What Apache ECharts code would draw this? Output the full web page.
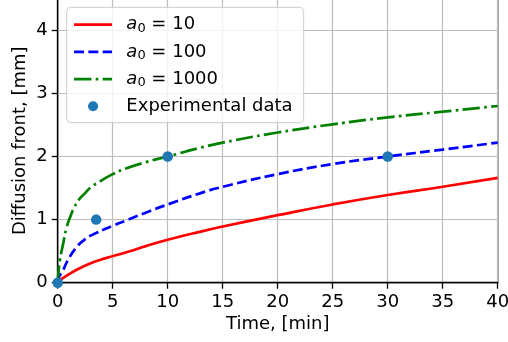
<!DOCTYPE html>
<html><head><meta charset="utf-8">
<script src="https://cdn.jsdelivr.net/npm/echarts@6/dist/echarts.min.js"></script>
<style>html,body{margin:0;padding:0;background:#fff}#c{width:508px;height:342px}</style>
</head><body><div id="c"></div>
<script>
// Time, [min] and Diffusion front, [mm]
const tRed = [0, 0.3, 0.9, 1.9, 3, 4.3, 6.4, 8, 10, 13, 15, 20, 25, 30, 35, 40];
const vRed = [0, 0.05, 0.12, 0.22, 0.31, 0.385, 0.49, 0.58, 0.68, 0.81, 0.89, 1.07, 1.24, 1.39, 1.52, 1.66];
const tBlue = [0, 0.15, 0.5, 0.9, 1.7, 2.5, 3.4, 5, 6.2, 8, 10, 13, 15, 20, 25, 30, 35, 40];
const vBlue = [0, 0.10, 0.20, 0.35, 0.56, 0.69, 0.78, 0.90, 0.985, 1.11, 1.24, 1.42, 1.52, 1.72, 1.88, 2.00, 2.11, 2.22];
const tGreen = [0, 0.1, 0.2, 0.5, 0.8, 1.2, 1.5, 1.9, 2.5, 3, 3.8, 5, 6.2, 8, 10, 13, 15, 20, 25, 30, 35, 40];
const vGreen = [0, 0.22, 0.36, 0.62, 0.87, 1.07, 1.19, 1.31, 1.42, 1.51, 1.60, 1.72, 1.81, 1.91, 2.00, 2.14, 2.22, 2.38, 2.51, 2.62, 2.71, 2.80];
const tExp = [0, 3.5, 10, 30];
const vExp = [0, 1, 2, 2];
const seriesNames = ['a0=10', 'a0=100', 'a0=1000', 'Experimental data'];
const legendLabels = ['10', '100', '1000'];

const zip = (a, b) => a.map((x, i) => [x, b[i]]);
const FONT = 'DejaVu Sans';
const FS = 18;
const chart = echarts.init(document.getElementById('c'), null, {renderer: 'canvas'});

const lineSeries = (name, t, v, color, type) => ({
  name, type: 'line', data: zip(t, v), symbol: 'none', smooth: 0.5,
  lineStyle: {color, width: 2.7, type}, itemStyle: {color}, z: 3
});

chart.setOption({
  animation: false,
  grid: {left: 57.7, right: 10.3, top: -1.25, bottom: 59.3, outerBoundsMode: 'none', containLabel: false,
         show: true, borderColor: '#000', borderWidth: 1.3, backgroundColor: 'transparent'},
  xAxis: {
    type: 'value', min: 0, max: 40, interval: 5,
    name: 'Time, [min]', nameLocation: 'middle', nameGap: 33, nameMoveOverlap: false,
    nameTextStyle: {fontFamily: FONT, fontSize: FS, color: '#000'},
    axisLine: {show: true, onZero: false, lineStyle: {color: '#000', width: 1.3}},
    axisTick: {show: true, length: 6, lineStyle: {color: '#000', width: 1.3}},
    axisLabel: {fontFamily: FONT, fontSize: FS, color: '#000', margin: 11},
    splitLine: {show: true, lineStyle: {color: '#bdbdbd', width: 1.2}}
  },
  yAxis: {
    type: 'value', min: 0, max: 4.5, interval: 1,
    name: 'Diffusion front, [mm]', nameLocation: 'middle', nameGap: 28.5, nameMoveOverlap: false,
    nameTextStyle: {fontFamily: FONT, fontSize: FS, color: '#000'},
    axisLine: {show: true, onZero: false, lineStyle: {color: '#000', width: 1.3}},
    axisTick: {show: true, length: 6, lineStyle: {color: '#000', width: 1.3}},
    axisLabel: {fontFamily: FONT, fontSize: FS, color: '#000', margin: 10, showMaxLabel: false},
    splitLine: {show: true, lineStyle: {color: '#bdbdbd', width: 1.2}}
  },
  legend: {
    orient: 'vertical', left: 66.7, top: 7.3,
    padding: [8.4, 11, 7.4, 6], itemGap: 8.2, itemWidth: 38, itemHeight: 10,
    backgroundColor: 'rgba(255,255,255,0.8)', borderColor: '#cccccc', borderWidth: 1, borderRadius: 4,
    lineStyle: {width: 2.7},
    data: [
      {name: seriesNames[0], itemStyle: {opacity: 0}},
      {name: seriesNames[1], itemStyle: {opacity: 0}},
      {name: seriesNames[2], itemStyle: {opacity: 0}},
      {name: seriesNames[3], icon: 'circle'}
    ],
    formatter: function (name) {
      const i = seriesNames.indexOf(name);
      if (i < 3) return '{a|a}{s|0}{n| = ' + legendLabels[i] + '}';
      return '{t|' + name + '}';
    },
    textStyle: {
      fontFamily: FONT, fontSize: FS, color: '#000',
      rich: {
        a: {fontFamily: FONT, fontSize: FS, fontStyle: 'italic', lineHeight: 20, padding: [0, 0, 0, 9.3]},
        s: {fontFamily: FONT, fontSize: 13, lineHeight: 13, verticalAlign: 'bottom'},
        n: {fontFamily: FONT, fontSize: FS, lineHeight: 20},
        t: {fontFamily: FONT, fontSize: FS, lineHeight: 20, padding: [0, 0, 0, 9.3]}
      }
    }
  },
  series: [
    lineSeries(seriesNames[0], tRed, vRed, '#ff0000', 'solid'),
    lineSeries(seriesNames[1], tBlue, vBlue, '#0000ff', [10, 4.3]),
    lineSeries(seriesNames[2], tGreen, vGreen, '#008000', [17.3, 4.3, 2.7, 4.3]),
    {name: seriesNames[3], type: 'scatter', data: zip(tExp, vExp), symbol: 'circle', symbolSize: 10.5,
     itemStyle: {color: '#1f77b4', opacity: 1}, z: 4}
  ]
});
</script></body></html>
